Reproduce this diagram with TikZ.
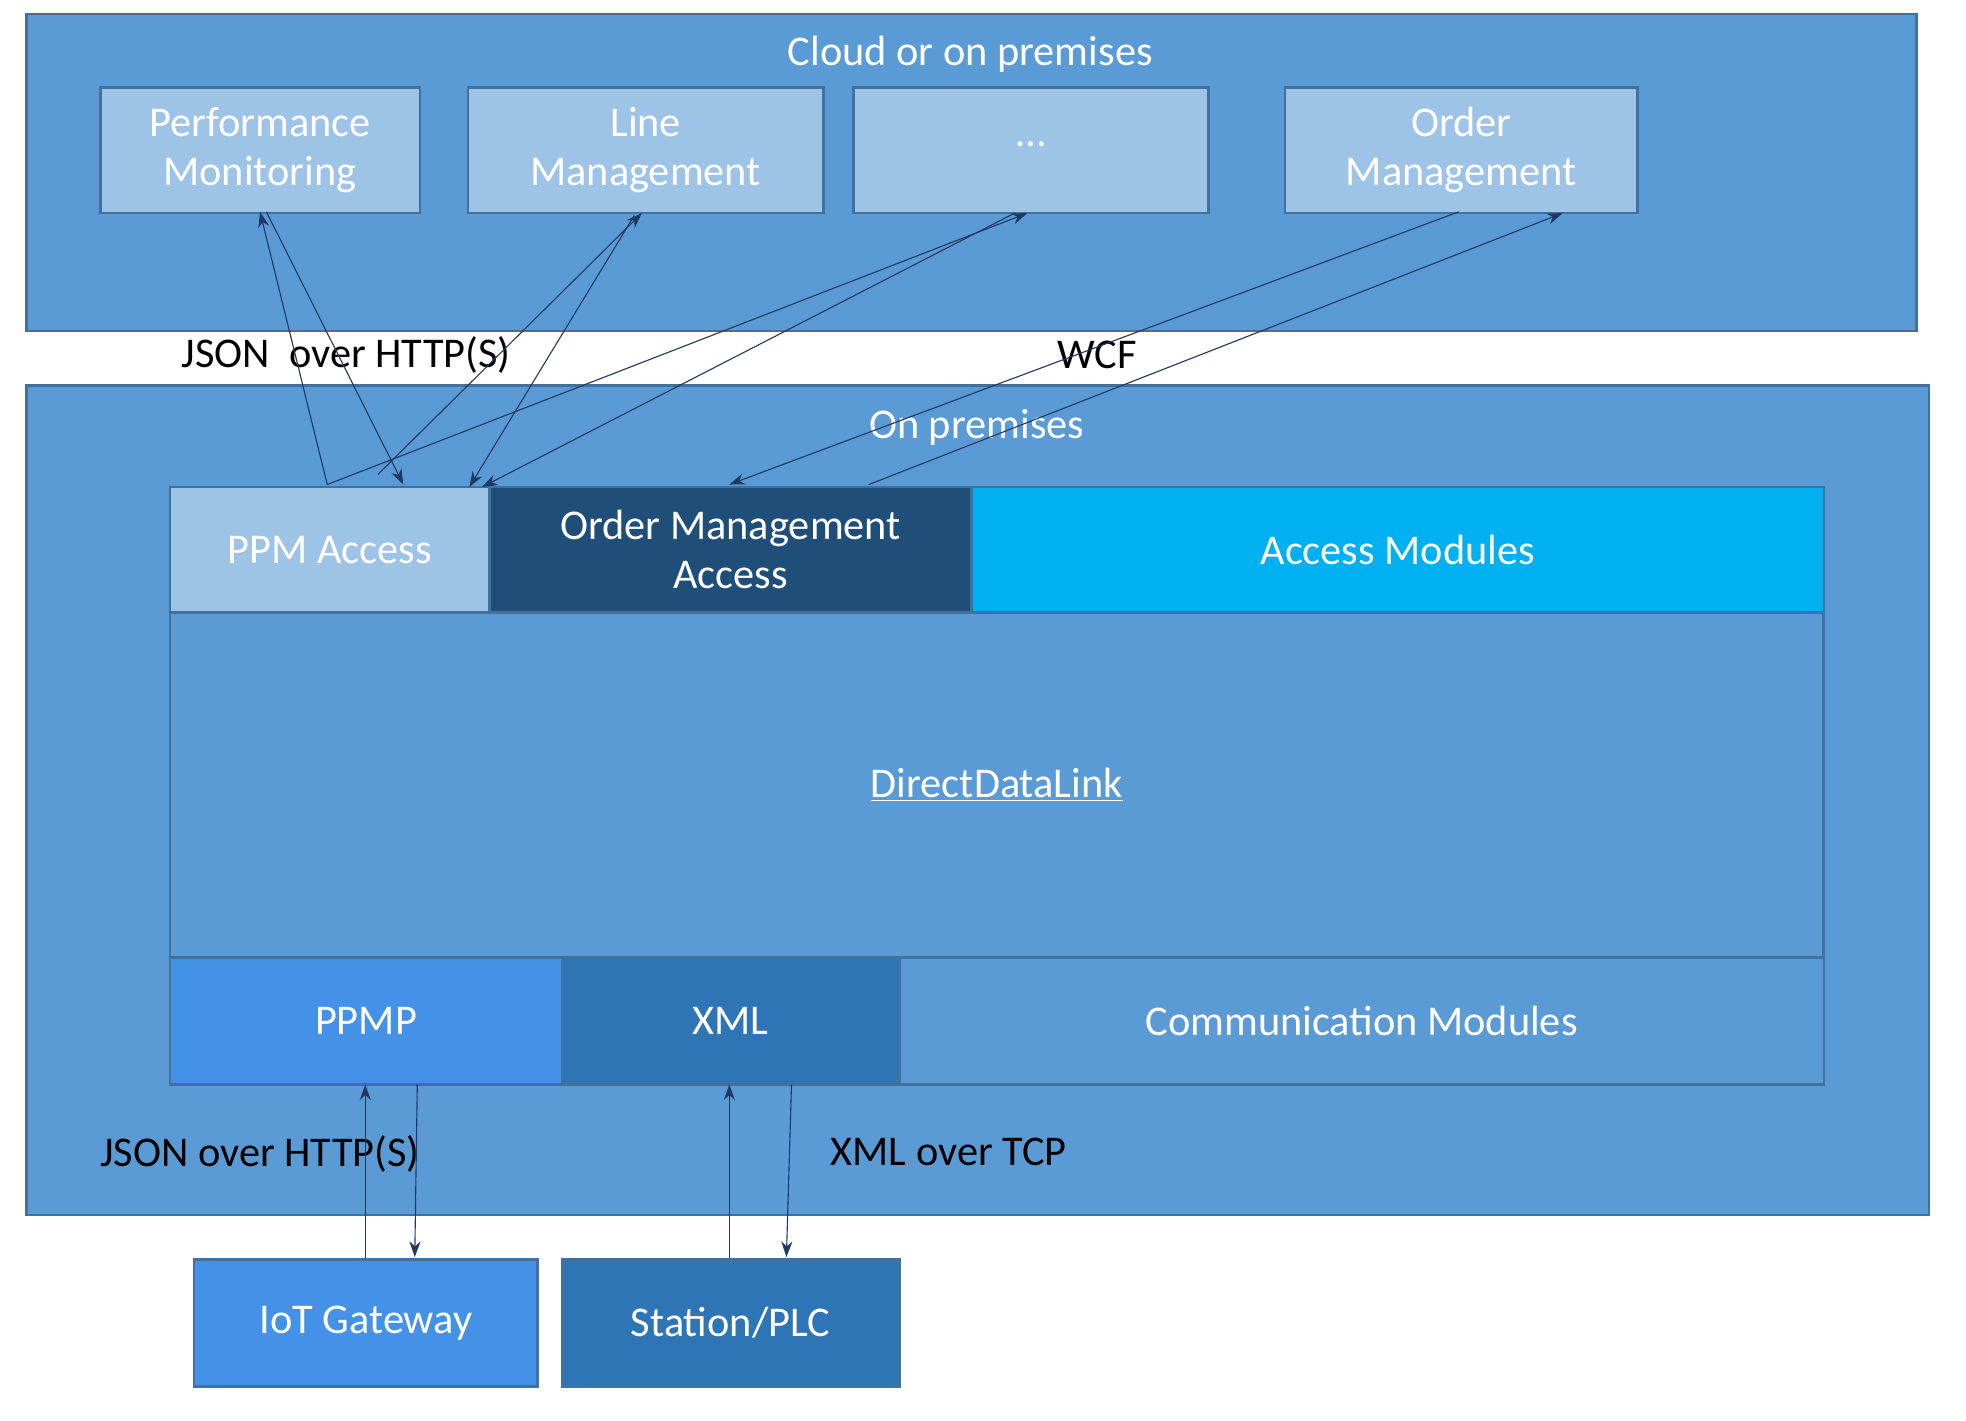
\documentclass[tikz,border=0pt]{standalone}
\usepackage{fontspec}
\setmainfont{Carlito}
\usetikzlibrary{arrows.meta}
\definecolor{bg}{HTML}{5B9BD5}
\definecolor{lt}{HTML}{9DC3E6}
\definecolor{dk}{HTML}{1F4E79}
\definecolor{cy}{HTML}{00B0F0}
\definecolor{md}{HTML}{4492E8}
\definecolor{mx}{HTML}{2E75B6}
\definecolor{bd}{HTML}{41719C}
\definecolor{ar}{HTML}{1F3864}
\begin{document}
\begin{tikzpicture}[x=0.02cm,y=-0.02cm,
 box/.style={draw=bd,line width=1.2pt,text=white,font=\fontsize{19}{22}\selectfont,align=center,inner sep=0pt},
 lab/.style={font=\fontsize{19}{22}\selectfont,text=black},
 arr/.style={draw=ar,line width=0.5pt,-{Stealth[length=7pt,width=5pt]}}]
\useasboundingbox (0,0) rectangle (1550,1120);
\fill[white] (0,0) rectangle (1550,1120);
\node[box,fill=bg,anchor=north west,minimum width=29.8cm,minimum height=5cm] (cloud) at (20,10) {};
\node[box,draw=none] (ct) at (765,43) {Cloud or on premises};
\node[box,fill=lt,anchor=north west,minimum width=5.04cm,minimum height=1.98cm] (pm) at (78,68) {Performance\\Monitoring};
\node[box,fill=lt,anchor=north west,minimum width=5.6cm,minimum height=1.98cm] (lm) at (368,68) {Line\\Management};
\node[box,fill=lt,anchor=north west,minimum width=5.6cm,minimum height=1.98cm] (dots) at (672,68) {\raisebox{0.6ex}{\dots}};
\node[box,fill=lt,anchor=north west,minimum width=5.56cm,minimum height=1.98cm] (om) at (1012,68) {Order\\Management};
\node[box,fill=bg,anchor=north west,minimum width=30cm,minimum height=13.08cm] (onp) at (20,303) {};
\node[box,draw=none] (ot) at (770,337) {On premises};
\node[box,fill=bg,anchor=north west,minimum width=26.08cm,minimum height=5.44cm] (ddl) at (133,482) {\underline{DirectDataLink}};
\node[box,fill=lt,anchor=north west,minimum width=5.04cm,minimum height=1.98cm] (ppm) at (133,383) {PPM Access};
\node[box,fill=dk,anchor=north west,minimum width=7.6cm,minimum height=1.98cm] (oma) at (385,383) {Order Management\\Access};
\node[box,fill=cy,anchor=north west,minimum width=13.44cm,minimum height=1.98cm] (am) at (765,383) {Access Modules};
\node[box,fill=md,anchor=north west,minimum width=6.18cm,minimum height=2cm] (ppmp) at (133,754) {PPMP};
\node[box,fill=mx,anchor=north west,minimum width=5.32cm,minimum height=2cm] (xml) at (442,754) {XML};
\node[box,fill=bg,anchor=north west,minimum width=14.58cm,minimum height=2cm] (cm) at (708,754) {Communication Modules};
\node[box,fill=md,anchor=north west,minimum width=5.42cm,minimum height=2cm] (iot) at (152,992) {IoT Gateway};
\node[box,fill=mx,anchor=north west,minimum width=5.32cm,minimum height=2cm] (st) at (442,992) {Station/PLC};
\node[lab] (l1) at (273,280) {JSON\ \ over HTTP(S)};
\node[lab] (l2) at (865,280) {WCF};
\node[lab] (l3) at (205,910) {JSON over HTTP(S)};
\node[lab] (l4) at (748,908) {XML over TCP};
\coordinate (p1) at (258,382); \coordinate (p2) at (318,382);
\coordinate (p3) at (370,384); \coordinate (p4) at (380,384);
\coordinate (q1) at (205,167); \coordinate (q2) at (210,167);
\coordinate (r1) at (506,168); \coordinate (r2) at (500,170);
\coordinate (s1) at (810,168); \coordinate (s2) at (800,168);
\coordinate (o1) at (1150,167); \coordinate (o2) at (1232,168);
\coordinate (m1) at (575,382); \coordinate (m2) at (685,382);
\draw[arr] (p1) -- (q1);
\draw[arr] (q2) -- (p2);
\draw[arr] (p2) ++(-20,-8) -- (r1);
\draw[arr] (r2) -- (p3);
\draw[arr] (p1) -- (s1);
\draw[arr] (s2) -- (p4);
\draw[arr] (o1) -- (m1);
\draw[arr] (m2) -- (o2);
\draw[arr] (288,992) -- (288,855);
\draw[arr] (329,855) -- (327,991);
\draw[arr] (575,992) -- (575,855);
\draw[arr] (624,855) -- (620,991);
\end{tikzpicture}
\end{document}
